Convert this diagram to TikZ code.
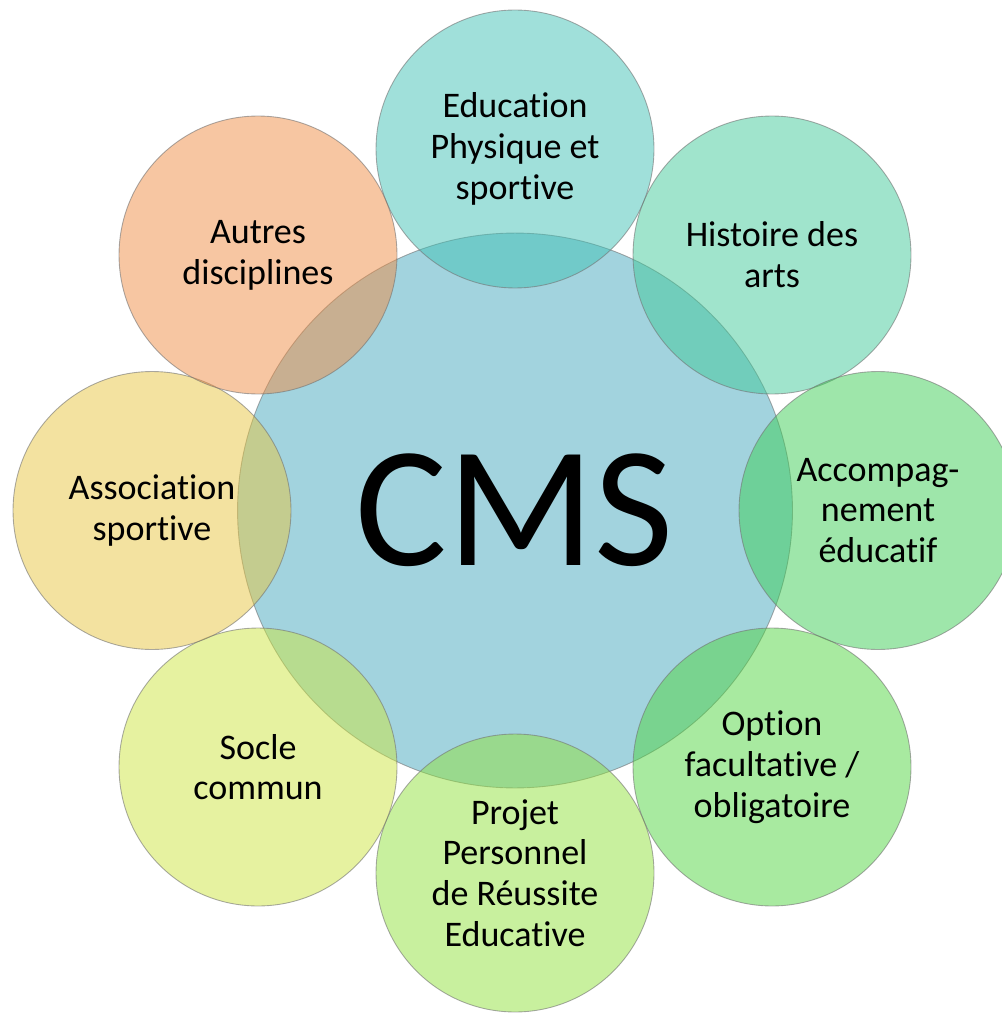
\documentclass[tikz,border=0pt]{standalone}
\usepackage{fontspec}
\setmainfont{Carlito}[Ligatures=NoCommon]

\definecolor{cmsbleu}{RGB}{69,167,189}
\definecolor{epsturquoise}{RGB}{65,193,181}
\definecolor{hdavert}{RGB}{65,201,153}
\definecolor{accvert}{RGB}{61,205,85}
\definecolor{optvert}{RGB}{81,213,65}
\definecolor{ppreanis}{RGB}{145,225,61}
\definecolor{soclejaune}{RGB}{205,229,65}
\definecolor{assojaune}{RGB}{231,197,65}
\definecolor{autresorange}{RGB}{239,141,69}

\tikzset{
  bulle/.style={circle, draw=black!55, draw opacity=0.6, line width=0.5pt, fill opacity=0.5, text opacity=1, inner sep=0pt, minimum size=5.56cm, align=center, font=\fontsize{20.5}{23.2}\selectfont}
}

\begin{document}
\begin{tikzpicture}[x=0.02cm,y=-0.02cm]
                \useasboundingbox (0,0) rectangle (1001,1013);
                \node[bulle, fill=cmsbleu, minimum size=11.1cm, font=\fontsize{98}{100}\selectfont] (cms) at (515,510.5) {CMS};
                \node[bulle, fill=epsturquoise] (eps) at (515,149) {Education\\Physique et\\sportive};
                \node[bulle, fill=hdavert] (hda) at (772,255) {Histoire des\\arts};
                \node[bulle, fill=accvert] (acc) at (878,510.5) {Accompag-\\nement\\éducatif};
                \node[bulle, fill=optvert] (opt) at (772,767) {Option\\facultative /\\obligatoire};
                \node[bulle, fill=ppreanis] (ppre) at (515,873) {Projet\\Personnel\\de Réussite\\Educative};
                \node[bulle, fill=soclejaune] (socle) at (258,767) {Socle\\commun};
                \node[bulle, fill=assojaune] (asso) at (152,510.5) {Association\\sportive};
                \node[bulle, fill=autresorange] (autres) at (258,255) {Autres\\disciplines};
            \end{tikzpicture}
\end{document}
